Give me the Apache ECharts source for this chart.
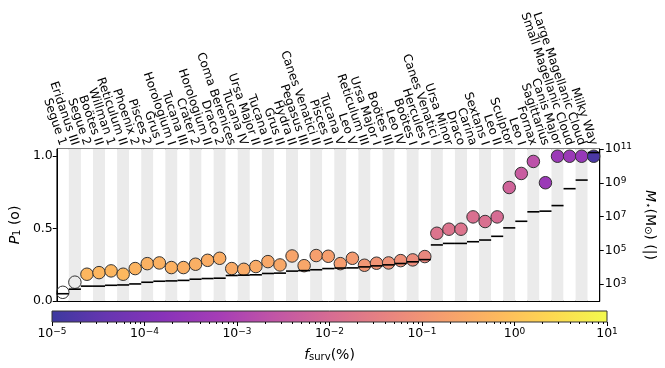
<!DOCTYPE html>
<html>
<head>
<meta charset="utf-8">
<script src="https://cdn.jsdelivr.net/npm/echarts@6/dist/echarts.min.js"></script>
<style>
  html, body { margin: 0; padding: 0; background: #fff; }
  #main { width: 665px; height: 368px; }
</style>
</head>
<body>
<div id="main"></div>
<script>
// galaxies, ordered by stellar mass
const galaxies = [
  'Segue 1', 'Eridanus III', 'Segue 2', 'Boötes II', 'Willman 1', 'Reticulum II',
  'Phoenix 2', 'Pisces 2', 'Grus I', 'Horologium I', 'Tucana III', 'Crater 2',
  'Horologium II', 'Draco 2', 'Coma Berenices', 'Tucana IV', 'Ursa Major II',
  'Tucana II', 'Grus II', 'Hydra II', 'Pegasus III', 'Canes Venatici II',
  'Pisces II', 'Tucana V', 'Leo V', 'Reticulum III', 'Ursa Major I', 'Boötes III',
  'Leo IV', 'Boötes I', 'Hercules I', 'Canes Venatici I', 'Ursa Minor', 'Draco',
  'Carina', 'Sextans I', 'Leo II', 'Sculptor', 'Leo I', 'Fornax', 'Sagittarius',
  'Canis Major', 'Small Magellanic Cloud', 'Large Magellanic Cloud', 'Milky Way'
];
// P_1 (left axis)
const p1 = [
  0.06, 0.13, 0.185, 0.196, 0.208, 0.185, 0.224, 0.258, 0.263, 0.231, 0.231, 0.254,
  0.281, 0.295, 0.224, 0.219, 0.238, 0.272, 0.249, 0.311, 0.244, 0.314, 0.309, 0.258,
  0.295, 0.247, 0.261, 0.263, 0.279, 0.284, 0.307, 0.468, 0.496, 0.496, 0.581, 0.549,
  0.581, 0.784, 0.881, 0.964, 0.817, 1.0, 1.0, 1.0, 1.0
];
// log10 of stellar mass in M_sun (right axis)
const logMstar = [
  2.43, 2.70, 2.88, 2.88, 2.93, 2.95, 3.01, 3.11, 3.17, 3.19, 3.22, 3.29,
  3.33, 3.35, 3.51, 3.53, 3.55, 3.63, 3.65, 3.77, 3.80, 3.85, 3.92, 3.95,
  3.96, 4.02, 4.08, 4.14, 4.22, 4.32, 4.45, 5.32, 5.41, 5.41, 5.51, 5.61,
  5.83, 6.33, 6.72, 7.28, 7.32, 7.65, 8.65, 9.16, 10.79
];
// log10 of f_surv (%), null = no survivors (white marker)
const logFsurv = [
  null, null, -0.25, -0.25, -0.25, -0.2, -0.3, -0.35, -0.35, -0.35, -0.4, -0.4,
  -0.45, -0.45, -0.5, -0.5, -0.5, -0.55, -0.55, -0.65, -0.6, -0.75, -0.75, -0.8,
  -0.85, -0.95, -1.0, -1.05, -1.1, -1.2, -1.3, -1.8, -1.8, -1.8, -1.9, -1.9,
  -2.0, -2.2, -2.4, -2.7, -3.4, -3.4, -3.4, -3.5, -4.8
];
const leftTicks = [0, 0.5, 1.0];
const rightTicks = [3, 5, 7, 9, 11];
const cbarMinor = [];
for (let d = -5; d < 1; d++) {
  for (let k = 2; k <= 9; k++) cbarMinor.push(d + Math.log10(k));
}

// plasma, drawn at alpha 0.8 over white
const plasma = ['#3d399f', '#6736b1', '#8833b9', '#a53db6', '#c155a6', '#d66c93',
                '#e78381', '#f59d6f', '#fdb85e', '#fdd851', '#f3fa4d'];

const font = 'DejaVu Sans';
const supRich = {
  b: { fontSize: 12.5, fontFamily: font, color: '#000', verticalAlign: 'bottom' },
  s: { fontSize: 9, fontFamily: font, color: '#000', verticalAlign: 'top' }
};
function powLabel(v) {
  const e = Math.round(v);
  return '{b|10}{s|' + (e < 0 ? '\u2212' + (-e) : e) + '}';
}
const nameRich = {
  it: { fontSize: 14, fontStyle: 'italic', fontFamily: font, color: '#000', verticalAlign: 'bottom' },
  sub: { fontSize: 10, fontFamily: font, color: '#000', verticalAlign: 'bottom' },
  n: { fontSize: 14, fontFamily: font, color: '#000', verticalAlign: 'bottom' }
};

const scatterData = galaxies.map((g, i) => [i, p1[i], logFsurv[i] === null ? NaN : logFsurv[i]]);
const massData = galaxies.map((g, i) => [i, logMstar[i]]);

let myChart = echarts.init(document.getElementById('main'));
let option = {
  animation: false,
  textStyle: { fontFamily: font },
  grid: [
    { left: 52, right: 58, top: 149, height: 152, show: true,
      borderColor: '#000', borderWidth: 1, backgroundColor: 'transparent' },
    { left: 52, right: 58, top: 311, height: 11, show: true,
      borderColor: '#333', borderWidth: 1,
      backgroundColor: new echarts.graphic.LinearGradient(0, 0, 1, 0,
        plasma.map((c, i) => ({ offset: i / (plasma.length - 1), color: c }))) }
  ],
  xAxis: [
    {
      type: 'category', gridIndex: 0, position: 'top', data: galaxies,
      boundaryGap: true,
      axisLine: { lineStyle: { color: '#000', width: 1 } },
      axisTick: { alignWithLabel: true, length: 4, lineStyle: { color: '#000' } },
      axisLabel: { rotate: -71, interval: 0, fontSize: 12, color: '#000', margin: 4 },
      splitLine: { show: false },
      splitArea: { show: true, interval: 0, areaStyle: { color: ['#ffffff', '#ebebeb'] } }
    },
    {
      type: 'value', gridIndex: 1, position: 'bottom', min: -5, max: 1, interval: 1,
      axisLine: { show: false },
      axisTick: { length: 4, lineStyle: { color: '#000' } },
      axisLabel: { formatter: powLabel, rich: supRich, margin: 5 },
      splitLine: { show: false },
      name: '{it|f}{sub|surv}{n|(%)}', nameLocation: 'middle', nameGap: 26,
      nameTextStyle: { rich: nameRich }
    },
    {
      type: 'value', gridIndex: 1, position: 'bottom', min: -5, max: 1,
      axisLine: { show: false },
      axisTick: { length: 2, customValues: cbarMinor, lineStyle: { color: '#000' } },
      axisLabel: { show: false },
      splitLine: { show: false }
    }
  ],
  yAxis: [
    {
      type: 'value', gridIndex: 0, position: 'left', min: 0, max: 1.05,
      axisLine: { show: true, lineStyle: { color: '#000' } },
      axisTick: { show: true, length: 4, customValues: leftTicks, lineStyle: { color: '#000' } },
      axisLabel: { customValues: leftTicks, formatter: v => v.toFixed(1), fontSize: 12.5, color: '#000', margin: 4 },
      splitLine: { show: false },
      name: '{it|P}{sub|1}{n| (o)}', nameLocation: 'middle', nameGap: 33, nameRotate: 90,
      nameTextStyle: { rich: nameRich }
    },
    {
      type: 'value', gridIndex: 0, position: 'right', min: 2, max: 11,
      axisLine: { show: true, lineStyle: { color: '#000' } },
      axisTick: { show: true, length: 4, customValues: rightTicks, lineStyle: { color: '#000' } },
      axisLabel: { customValues: rightTicks, formatter: powLabel, rich: supRich, margin: 5 },
      splitLine: { show: false },
      name: '{it|M}{sub|\u22c6}{n|(M}{sub|\u2299}{n|) (|)}', nameLocation: 'middle', nameGap: 40, nameRotate: -90,
      nameTextStyle: { rich: nameRich }
    },
    { type: 'value', gridIndex: 1, min: 0, max: 1, show: false }
  ],
  visualMap: {
    show: false, type: 'continuous', seriesIndex: 0, dimension: 2,
    min: -5, max: 1,
    inRange: { color: plasma },
    outOfRange: { color: '#ffffff' }
  },
  series: [
    {
      type: 'scatter', xAxisIndex: 0, yAxisIndex: 0,
      data: scatterData, symbolSize: 12.5, z: 3,
      itemStyle: { borderColor: '#333', borderWidth: 1, opacity: 1 }
    },
    {
      type: 'custom', xAxisIndex: 0, yAxisIndex: 1, z: 4,
      data: massData,
      encode: { x: 0, y: 1 },
      renderItem: function (params, api) {
        const c = api.coord([api.value(0), api.value(1)]);
        const w = api.size([1, 0])[0];
        return {
          type: 'line',
          shape: { x1: c[0] - w / 2, y1: c[1], x2: c[0] + w / 2, y2: c[1] },
          style: { stroke: '#000', lineWidth: 1.6 }
        };
      }
    }
  ]
};
myChart.setOption(option);
</script>
</body>
</html>
